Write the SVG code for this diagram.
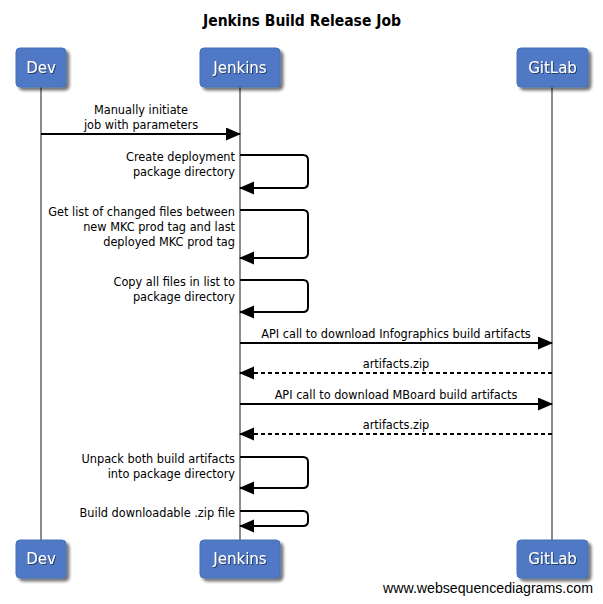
<svg xmlns="http://www.w3.org/2000/svg" width="603" height="604" viewBox="0 0 603 604">
<style>
.bg{fill:#ffffff}
.title{font-family:"DejaVu Sans Condensed","DejaVu Sans",sans-serif;font-weight:bold;font-size:15px;fill:#000}
.box{fill:#4F79C4;stroke:#4470BA;stroke-width:1;filter:url(#sh)}
.pname{font-family:"DejaVu Sans",sans-serif;font-size:15px;fill:#fff;text-anchor:middle;filter:url(#tsh)}
.life{stroke:#8c8c8c;stroke-width:2;fill:none}
.msg{stroke:#000;stroke-width:2;fill:none;marker-end:url(#ah)}
.dash{stroke-dasharray:4,3}
.lbl{font-family:"DejaVu Sans Condensed","DejaVu Sans",sans-serif;font-size:12.6px;fill:#000}
.c{text-anchor:middle}
.r{text-anchor:end}
.wm{font-family:"Liberation Sans",Arial,sans-serif;font-size:14px;fill:#000}
</style>
<defs>
<filter id="sh" x="-20%" y="-20%" width="150%" height="160%">
<feGaussianBlur in="SourceAlpha" stdDeviation="1.5"/>
<feOffset dx="2.5" dy="2.5" result="o"/>
<feComponentTransfer><feFuncA type="linear" slope="0.55"/></feComponentTransfer>
<feMerge><feMergeNode/><feMergeNode in="SourceGraphic"/></feMerge>
</filter>
<filter id="tsh" x="-10%" y="-20%" width="130%" height="150%">
<feDropShadow dx="1" dy="1" stdDeviation="0.6" flood-color="#1a2a50" flood-opacity="0.8"/>
</filter>
<marker id="ah" markerUnits="userSpaceOnUse" markerWidth="16" markerHeight="14" refX="14" refY="6.5" orient="auto">
<path d="M0,0 L15,6.5 L0,13 z" fill="#000"/>
</marker>
</defs>
<rect class="bg" x="0" y="0" width="603" height="604"/>
<text class="title" x="302" y="26" text-anchor="middle" textLength="198" lengthAdjust="spacingAndGlyphs">Jenkins Build Release Job</text>

<g id="connectors">
<line class="life" x1="41" y1="87" x2="41" y2="540"/>
<line class="life" x1="240" y1="87" x2="240" y2="540"/>
<line class="life" x1="552" y1="87" x2="552" y2="540"/>

<g id="m1">
<line class="msg" x1="41" y1="134" x2="240" y2="134"/>
<text class="lbl c" x="141" y="114">Manually initiate</text>
<text class="lbl c" x="141" y="129">job with parameters</text>
</g>
<g id="m2">
<path class="msg" d="M240,155 H303 Q308,155 308,160 V183 Q308,188 303,188 H240"/>
<text class="lbl r" x="235" y="161">Create deployment</text>
<text class="lbl r" x="235" y="176">package directory</text>
</g>
<g id="m3">
<path class="msg" d="M240,210 H303 Q308,210 308,215 V253 Q308,258 303,258 H240"/>
<text class="lbl r" x="235" y="216">Get list of changed files between</text>
<text class="lbl r" x="235" y="231">new MKC prod tag and last</text>
<text class="lbl r" x="235" y="246">deployed MKC prod tag</text>
</g>
<g id="m4">
<path class="msg" d="M240,280 H303 Q308,280 308,285 V307 Q308,312 303,312 H240"/>
<text class="lbl r" x="235" y="286">Copy all files in list to</text>
<text class="lbl r" x="235" y="301">package directory</text>
</g>
<g id="m5">
<line class="msg" x1="240" y1="343" x2="552" y2="343"/>
<text class="lbl c" x="396" y="338">API call to download Infographics build artifacts</text>
</g>
<g id="m6">
<line class="msg dash" x1="552" y1="373" x2="240" y2="373"/>
<text class="lbl c" x="396" y="368">artifacts.zip</text>
</g>
<g id="m7">
<line class="msg" x1="240" y1="404" x2="552" y2="404"/>
<text class="lbl c" x="396" y="399">API call to download MBoard build artifacts</text>
</g>
<g id="m8">
<line class="msg dash" x1="552" y1="434" x2="240" y2="434"/>
<text class="lbl c" x="396" y="429">artifacts.zip</text>
</g>
<g id="m9">
<path class="msg" d="M240,457 H303 Q308,457 308,462 V483 Q308,488 303,488 H240"/>
<text class="lbl r" x="235" y="463">Unpack both build artifacts</text>
<text class="lbl r" x="235" y="478">into package directory</text>
</g>
<g id="m10">
<path class="msg" d="M240,511 H303 Q308,511 308,516 V521 Q308,526 303,526 H240"/>
<text class="lbl r" x="235" y="517">Build downloadable .zip file</text>
</g>
</g>

<g id="dev-top"><rect class="box" x="16" y="48" width="50" height="39" rx="4"/><text class="pname" x="41" y="73">Dev</text></g>
<g id="jenkins-top"><rect class="box" x="200" y="48" width="80" height="39" rx="4"/><text class="pname" x="240" y="73">Jenkins</text></g>
<g id="gitlab-top"><rect class="box" x="517" y="48" width="71" height="39" rx="4"/><text class="pname" x="552.5" y="73">GitLab</text></g>

<g id="dev-bottom"><rect class="box" x="16" y="540" width="50" height="38" rx="4"/><text class="pname" x="41" y="564">Dev</text></g>
<g id="jenkins-bottom"><rect class="box" x="200" y="540" width="80" height="38" rx="4"/><text class="pname" x="240" y="564">Jenkins</text></g>
<g id="gitlab-bottom"><rect class="box" x="517" y="540" width="71" height="38" rx="4"/><text class="pname" x="552.5" y="564">GitLab</text></g>

<text class="wm" x="383" y="593" textLength="210" lengthAdjust="spacingAndGlyphs">www.websequencediagrams.com</text>
</svg>
